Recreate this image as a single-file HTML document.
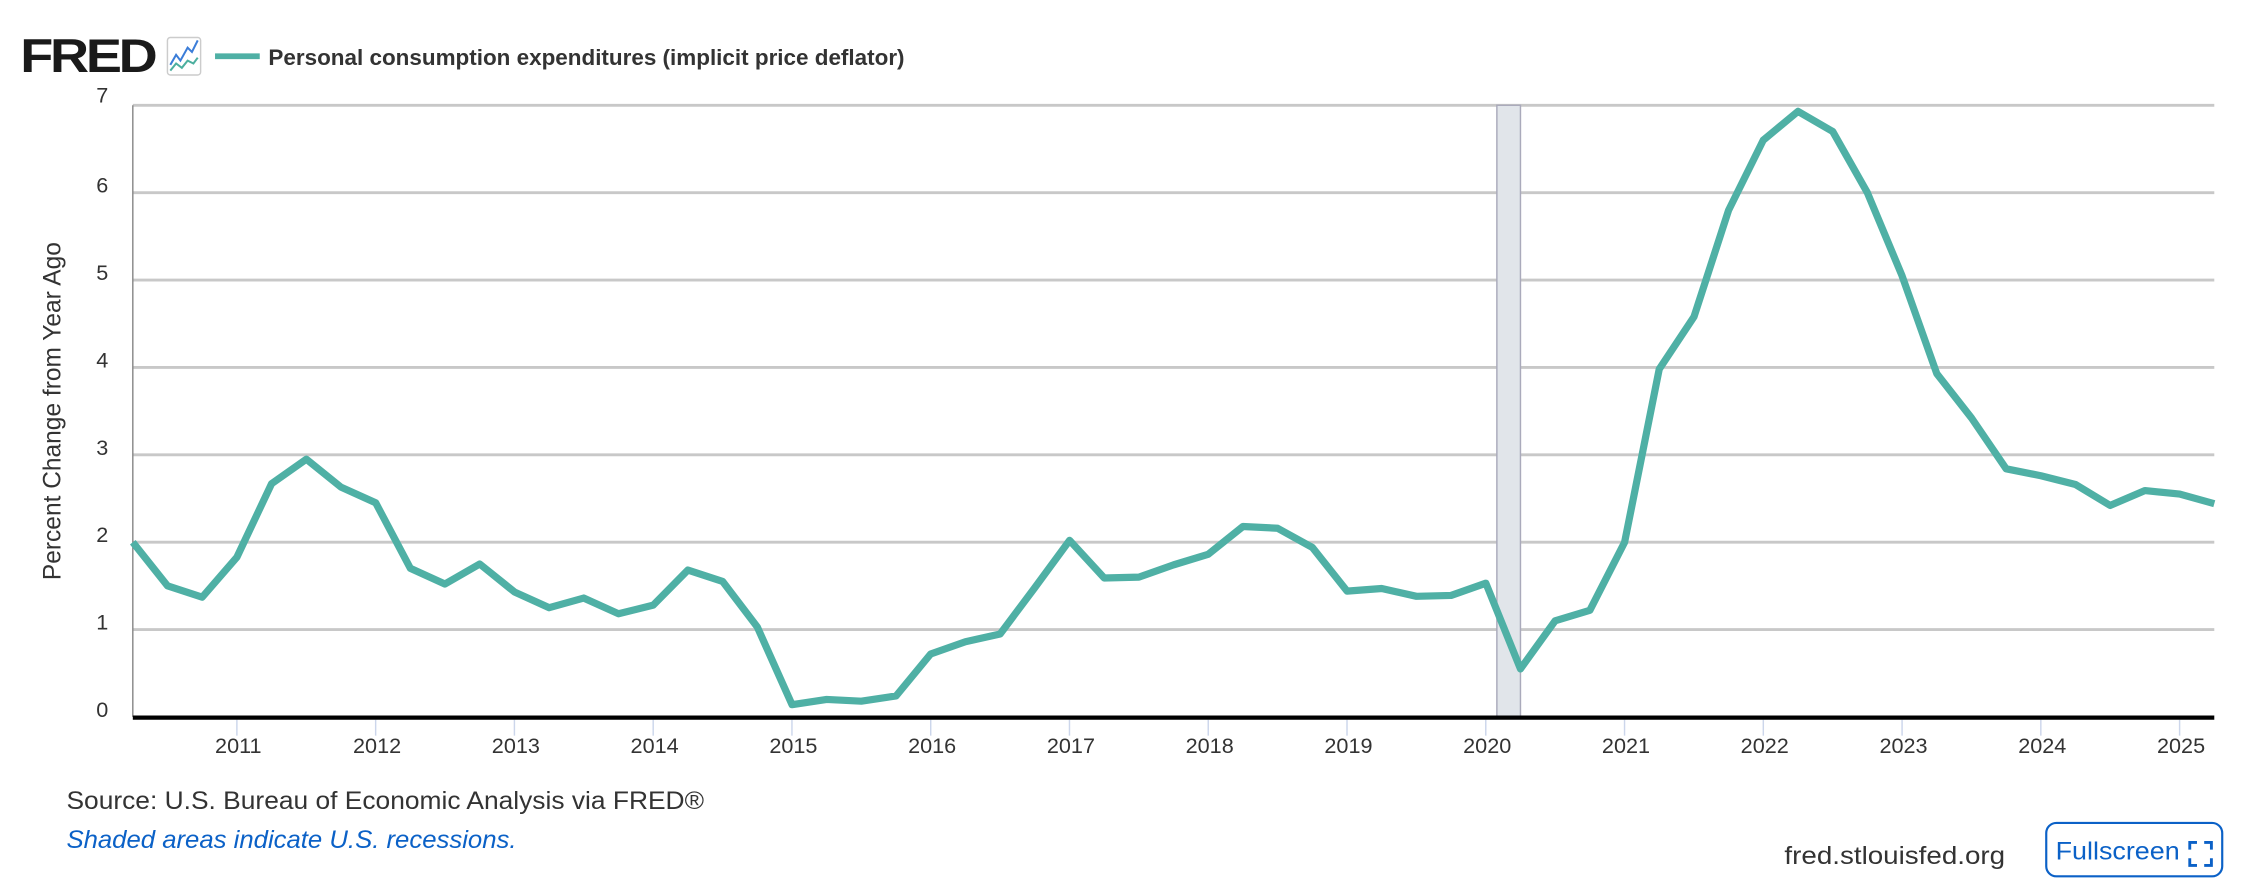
<!DOCTYPE html>
<html><head><meta charset="utf-8"><style>
html,body{margin:0;padding:0;background:#fff;}
svg{display:block;font-family:"Liberation Sans",Arial,sans-serif;}
</style></head><body>
<svg id="chart" width="2262" height="890" viewBox="0 0 1568 617" xmlns="http://www.w3.org/2000/svg">
<g>
<text x="14" y="50" font-size="33" font-weight="bold" fill="#1a1a1a" letter-spacing="-2" textLength="93" lengthAdjust="spacingAndGlyphs">FRED</text>
<rect x="116" y="26" width="23" height="26" fill="#fff" stroke="#ccc" stroke-width="1" rx="2"/>
<polyline points="118,45 122,38 125,42 130,33 133,36 137,28" fill="none" stroke="#3b7dd8" stroke-width="1.4"/>
<polyline points="118,49 122,44 126,47 130,42 134,44 137,40" fill="none" stroke="#4caf9f" stroke-width="1.4"/>
</g>
<g>
<rect x="149" y="37" width="31" height="4" fill="#4fb0a5"/>
<text x="186" y="45" font-size="15.5" font-weight="bold" fill="#333" textLength="441" lengthAdjust="spacingAndGlyphs">Personal consumption expenditures (implicit price deflator)</text>
</g>
<g id="grid"></g>
<rect id="rec" fill="#e1e5ea" stroke="#aab" stroke-width="1"/>
<line x1="92" y1="73" x2="92" y2="497" stroke="#888" stroke-width="1"/>
<g id="ylabels"></g>
<g id="xlabels"></g>
<polyline id="series" fill="none" stroke="#4fb0a5" stroke-width="5" stroke-linejoin="round"/>
<line x1="92" y1="497.5" x2="1535" y2="497.5" stroke="#000" stroke-width="3"/>
<text transform="translate(42,285) rotate(-90)" text-anchor="middle" font-size="17" fill="#333">Percent Change from Year Ago</text>
<text x="46" y="561" font-size="17.5" fill="#333" textLength="442" lengthAdjust="spacingAndGlyphs">Source: U.S. Bureau of Economic Analysis via FRED®</text>
<text x="46" y="588" font-size="17.5" font-style="italic" fill="#0b61c7" textLength="312" lengthAdjust="spacingAndGlyphs">Shaded areas indicate U.S. recessions.</text>
<text x="1237" y="599" font-size="17.5" fill="#333" textLength="153" lengthAdjust="spacingAndGlyphs">fred.stlouisfed.org</text>
<g>
<rect x="1418.5" y="570.5" width="122" height="37" rx="7" fill="#fff" stroke="#0b61c7" stroke-width="1.5"/>
<text x="1425" y="596" font-size="17.5" fill="#0b61c7" textLength="86" lengthAdjust="spacingAndGlyphs">Fullscreen</text>
<path d="M1518,589 v-5 h5 M1528,584 h5 v5 M1533,595 v5 h-5 M1523,600 h-5 v-5" fill="none" stroke="#0b61c7" stroke-width="2"/>
</g>
</svg>
<script>
const startYear = 2010.25;
const values = [2.0,1.5,1.37,
1.83,2.67,2.95,2.63,
2.45,1.7,1.52,1.75,
1.43,1.25,1.36,1.18,
1.28,1.68,1.55,1.03,
0.14,0.2,0.18,0.24,
0.72,0.86,0.95,1.48,
2.02,1.59,1.6,1.74,
1.86,2.18,2.16,1.94,
1.44,1.47,1.38,1.39,
1.53,0.55,1.1,1.22,
2.0,3.98,4.58,5.8,
6.6,6.93,6.7,6.0,
5.05,3.93,3.42,2.84,
2.76,2.66,2.42,2.59,
2.55,2.44];
const yTicks = [0,1,2,3,4,5,6,7];
const xTicks = [2011,2012,2013,2014,2015,2016,2017,2018,2019,2020,2021,2022,2023,2024,2025];
const recessions = [[2020.08,2020.25]];
const NS='http://www.w3.org/2000/svg';
function xs(t){return 92+(t-2010.25)*(1535-92)/15;}
function ys(v){return 497-v*(497-73)/7;}
const grid=document.getElementById('grid'), yl=document.getElementById('ylabels'), xl=document.getElementById('xlabels');
yTicks.forEach(v=>{
  if(v>0){const l=document.createElementNS(NS,'line');
  
  
  l.setAttribute('x1',92);l.setAttribute('x2',1535);l.setAttribute('y1',ys(v));l.setAttribute('y2',ys(v));
  l.setAttribute('stroke','#c8c8c8');l.setAttribute('stroke-width','2');grid.appendChild(l);}
  const t=document.createElementNS(NS,'text');
  
  
  t.setAttribute('x',75);t.setAttribute('y',ys(v)+(v==7?-2:0));t.setAttribute('text-anchor','end');t.setAttribute('font-size','15');t.setAttribute('fill','#333');
  t.textContent=v;yl.appendChild(t);
});
xTicks.forEach(yr=>{
  const x=xs(yr);
  const l=document.createElementNS(NS,'line');
  
  
  l.setAttribute('x1',x);l.setAttribute('x2',x);l.setAttribute('y1',499);l.setAttribute('y2',510);
  l.setAttribute('stroke','#ccd6eb');l.setAttribute('stroke-width','1');xl.appendChild(l);
  const t=document.createElementNS(NS,'text');
  
  
  t.setAttribute('x',x+1);t.setAttribute('y',522);t.setAttribute('text-anchor','middle');t.setAttribute('font-size','15');t.setAttribute('fill','#333');
  t.textContent=yr;xl.appendChild(t);
});
const r=document.getElementById('rec');
r.setAttribute('x',xs(recessions[0][0]));r.setAttribute('width',xs(recessions[0][1])-xs(recessions[0][0]));
r.setAttribute('y',73);r.setAttribute('height',424);
document.getElementById('series').setAttribute('points',values.map((v,i)=>xs(startYear+i*0.25).toFixed(1)+','+ys(v).toFixed(1)).join(' '));
</script>
</body></html>
